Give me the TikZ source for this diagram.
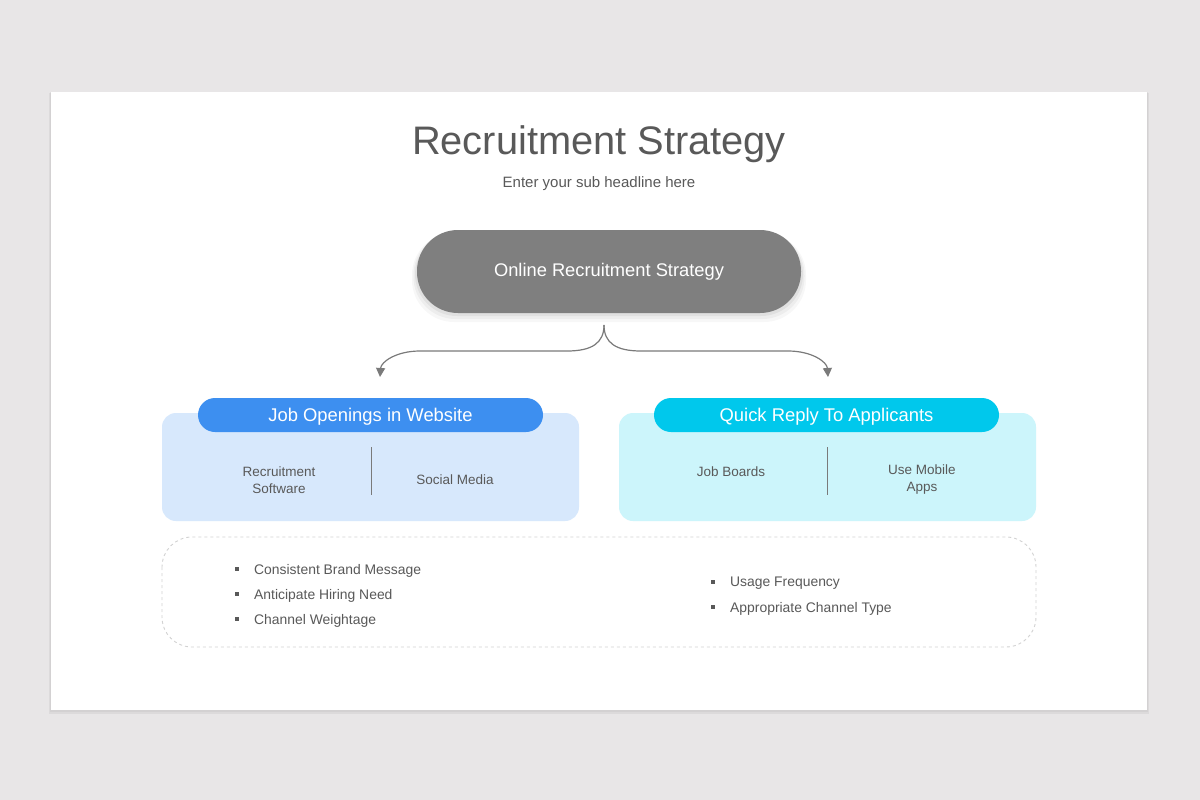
\documentclass[tikz,border=0pt]{standalone}
\usepackage{fontspec}
\setmainfont{Liberation Sans}
\usetikzlibrary{arrows.meta}
\definecolor{bgout}{HTML}{E8E6E7}
\definecolor{txt}{HTML}{595959}
\definecolor{pillgray}{HTML}{7F7F7F}
\definecolor{bluepill}{HTML}{3D8FF0}
\definecolor{bluebox}{HTML}{D7E8FC}
\definecolor{cyanpill}{HTML}{00C8EC}
\definecolor{cyanbox}{HTML}{CCF5FB}
\definecolor{dashc}{HTML}{D2D2D2}
\definecolor{linec}{HTML}{7A7A7A}
\tikzset{
  pill/.style={rounded corners=17pt, minimum width=345pt, minimum height=34pt, inner sep=0pt, text=white, font=\fontsize{18.4}{20}\selectfont},
  lightbox/.style={rounded corners=14pt, minimum width=417pt, minimum height=108pt, inner sep=0pt},
  celltext/.style={text=txt, font=\fontsize{13.5}{17}\selectfont, align=center},
  bullettext/.style={text=txt, font=\fontsize{13.9}{16}\selectfont, anchor=west, inner sep=0pt},
  bulletmark/.style={fill=txt, minimum size=4pt, inner sep=0pt},
  divider/.style={draw=linec, line width=1pt},
  conn/.style={draw=linec, line width=1.2pt, -{Triangle[length=9pt,width=9pt]}},
}
\begin{document}
\begin{tikzpicture}[x=1pt,y=-1pt]
\useasboundingbox (0,0) rectangle (1200,800);
\fill[bgout] (0,0) rectangle (1200,800);
% card shadow and card
\fill[black,opacity=0.05] (49,93) rectangle (1149,714);
\fill[black,opacity=0.04] (50,92) rectangle (1148,712);
\fill[white] (51,92) rectangle (1147,710);
% title
\node[text=txt, font=\fontsize{39.8}{46}\selectfont] (title) at (599,144) {Recruitment Strategy};
\node[text=txt, font=\fontsize{15}{17}\selectfont] (sub) at (599,183.5) {Enter your sub headline here};
% gray pill with soft shadow
\foreach \o/\a in {10/0.03,7/0.04,4/0.05}{
  \fill[black,opacity=\a,rounded corners=42pt] (417-\o/2,233) rectangle (801+\o/2,312+\o);
}
\node[fill=pillgray, rounded corners=41pt, minimum width=384pt, minimum height=83pt, inner sep=0pt, text=white, font=\fontsize{18.3}{20}\selectfont] (main) at (609,271.5) {Online Recruitment Strategy};
% connectors
\coordinate (cusp) at (604,325);
\coordinate (lend) at (380,377);
\coordinate (rend) at (828,377);
\draw[conn] (cusp) .. controls (604,343) and (592,351) .. (567,351) -- (420,351) .. controls (396,351) and (381,362) .. (lend);
\draw[conn] (cusp) .. controls (604,343) and (616,351) .. (641,351) -- (788,351) .. controls (812,351) and (827,362) .. (rend);
% left group
\node[lightbox, fill=bluebox] (lbox) at (370.5,467) {};
\node[pill, fill=bluepill] (lpill) at (370.5,415) {};
\node[text=white, font=\fontsize{18.4}{20}\selectfont] (lpt) at (370.5,417) {Job Openings in Website};
\draw[divider] (371,447) -- (371,495);
\node[celltext] (l1) at (279,480) {Recruitment\\Software};
\node[celltext] (l2) at (455,480) {Social Media};
% right group
\node[lightbox, fill=cyanbox] (rbox) at (827.5,467) {};
\node[pill, fill=cyanpill] (rpill) at (826.5,415) {};
\node[text=white, font=\fontsize{18.4}{20}\selectfont] (rpt) at (826.5,417) {Quick Reply To Applicants};
\draw[divider] (827,447) -- (827,495);
\node[celltext] (r1) at (731,472) {Job Boards};
\node[celltext] (r2) at (922,480) {Use Mobile\\Apps};
% dashed box
\draw[dashc, dashed, line width=0.9pt, rounded corners=30pt] (162,537) rectangle (1036,647);
\node[bulletmark] (b1) at (237,569) {};
\node[bullettext] (t1) at (254,570.5) {Consistent Brand Message};
\node[bulletmark] (b2) at (237,594) {};
\node[bullettext] (t2) at (254,595.5) {Anticipate Hiring Need};
\node[bulletmark] (b3) at (237,619) {};
\node[bullettext] (t3) at (254,620.5) {Channel Weightage};
\node[bulletmark] (b4) at (713,582) {};
\node[bullettext] (t4) at (730,583.5) {Usage Frequency};
\node[bulletmark] (b5) at (713,607) {};
\node[bullettext] (t5) at (730,608.5) {Appropriate Channel Type};
\end{tikzpicture}
\end{document}
